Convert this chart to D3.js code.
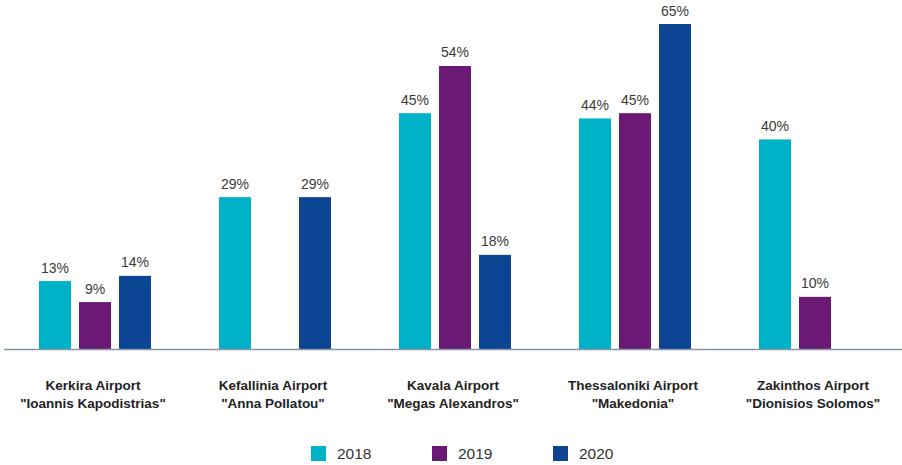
<!DOCTYPE html>
<html><head><meta charset="utf-8">
<script src="https://cdn.jsdelivr.net/npm/d3@7"></script>
<style>body{margin:0;background:#fff}</style>
</head><body>
<svg id="c" width="902" height="465"></svg>
<script>
const categories = [
  ["Kerkira Airport", "\"Ioannis Kapodistrias\""],
  ["Kefallinia Airport", "\"Anna Pollatou\""],
  ["Kavala Airport", "\"Megas Alexandros\""],
  ["Thessaloniki Airport", "\"Makedonia\""],
  ["Zakinthos Airport", "\"Dionisios Solomos\""]
];
const series = ["2018", "2019", "2020"];
const values2018 = [13, 29, 45, 44, 40];
const values2019 = [9, null, 54, 45, 10];
const values2020 = [14, 29, 18, 65, null];
const colors = ["#00b2c8", "#6a1a74", "#0b4594"];

const allValues = [values2018, values2019, values2020];
const svg = d3.select("#c");
const font = "'Liberation Sans', Arial, sans-serif";

const x0 = d3.scaleBand().domain(d3.range(categories.length)).range([5, 905]);
const x1 = d3.scaleBand().domain(series).range([30, 150]).paddingInner(0.2).paddingOuter(0.1);
// axis maximum sits below the largest value: that bar is cut at the top of the plot
const y = d3.scaleLinear().domain([0, 62]).range([349.3, 24]).clamp(true);

const data = [];
categories.forEach((c, i) => series.forEach((s, j) => {
  const v = allValues[j][i];
  if (v != null) data.push({i, s, j, v});
}));

svg.selectAll("rect.bar").data(data).enter().append("rect")
  .attr("class", "bar")
  .attr("x", d => x0(d.i) + x1(d.s))
  .attr("width", x1.bandwidth())
  .attr("y", d => y(d.v))
  .attr("height", d => y(0) - y(d.v))
  .attr("fill", d => colors[d.j]);

svg.selectAll("text.val").data(data).enter().append("text")
  .attr("x", d => x0(d.i) + x1(d.s) + x1.bandwidth() / 2)
  .attr("y", d => y(d.v) - 8.5)
  .attr("text-anchor", "middle")
  .attr("font-family", font).attr("font-size", 14).attr("fill", "#3a3a3a")
  .text(d => d.v + "%");

svg.append("line").attr("x1", 4).attr("x2", 902).attr("y1", 349.5).attr("y2", 349.5)
  .attr("stroke", "#8796a8").attr("stroke-width", 1.3);

const cat = svg.selectAll("text.cat").data(categories).enter().append("text")
  .attr("text-anchor", "middle").attr("font-family", font).attr("font-size", 13.5)
  .attr("font-weight", "bold").attr("fill", "#222");
cat.each(function(d, i) {
  const t = d3.select(this);
  d.forEach((line, k) => t.append("tspan").attr("x", x0(i) + x0.bandwidth() / 2 - 2).attr("y", 390 + k * 18).text(line));
});

const leg = svg.selectAll("g.leg").data(series).enter().append("g")
  .attr("transform", (d, i) => `translate(${311 + i * 121},446)`);
leg.append("rect").attr("width", 15).attr("height", 15).attr("fill", (d, i) => colors[i]);
leg.append("text").attr("x", 26).attr("y", 13).attr("font-family", font).attr("font-size", 15.5)
  .attr("fill", "#333").text(d => d);
</script>
</body></html>
